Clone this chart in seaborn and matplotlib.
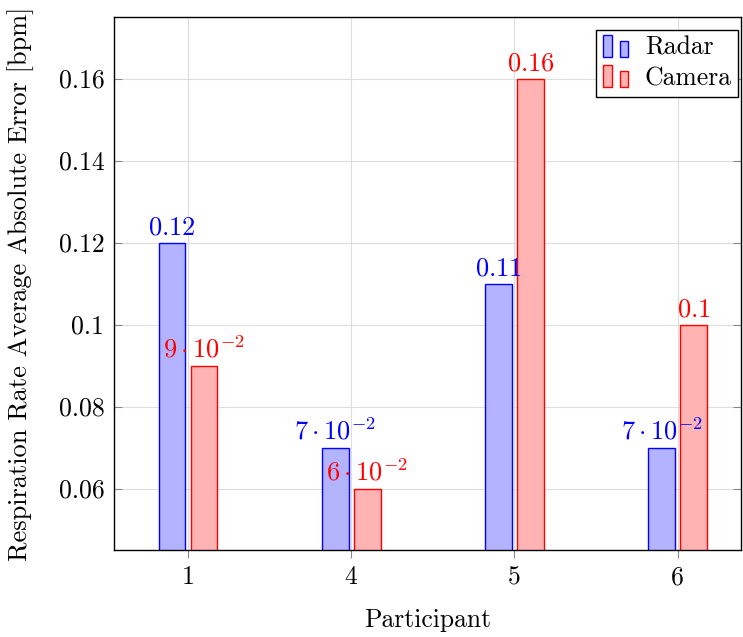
import matplotlib
matplotlib.use("Agg")
import matplotlib.pyplot as plt
import seaborn as sns
import pandas as pd
from matplotlib.patches import Rectangle
from matplotlib.legend_handler import HandlerBase

participants = ["1", "4", "5", "6"]
radar = [0.12, 0.07, 0.11, 0.07]
camera = [0.09, 0.06, 0.16, 0.10]
radar_labels = [r"$0.12$", r"$7\cdot10^{-2}$", r"$0.11$", r"$7\cdot10^{-2}$"]
camera_labels = [r"$9\cdot10^{-2}$", r"$6\cdot10^{-2}$", r"$0.16$", r"$0.1$"]
yticks = [0.06, 0.08, 0.10, 0.12, 0.14, 0.16]
ytick_labels = ["0.06", "0.08", "0.1", "0.12", "0.14", "0.16"]

sns.set_style("white")
plt.rcParams["font.family"] = ["cmr10", "DejaVu Serif"]
plt.rcParams["mathtext.fontset"] = "cm"
plt.rcParams["axes.unicode_minus"] = False
plt.rcParams["text.color"] = "black"
plt.rcParams["axes.labelcolor"] = "black"

df = pd.DataFrame({
    "Participant": participants * 2,
    "value": radar + camera,
    "series": ["Radar"] * 4 + ["Camera"] * 4,
})

fig = plt.figure(figsize=(7.43, 6.37), dpi=100)
ax = fig.add_axes([114 / 743, 1 - 550 / 637, (741 - 114) / 743, (550 - 17) / 637])

blue_fill = "#b3b3ff"
red_fill = "#ffb3b3"
sns.barplot(data=df, x="Participant", y="value", hue="series",
            palette={"Radar": blue_fill, "Camera": red_fill},
            width=0.392, gap=0.16, ax=ax, legend=False, saturation=1)

edge = {"Radar": "blue", "Camera": "red"}
for cont, name, labels in zip(ax.containers, ["Radar", "Camera"], [radar_labels, camera_labels]):
    for p in cont.patches:
        p.set_edgecolor(edge[name])
        p.set_linewidth(1.0)
    ax.bar_label(cont, labels=labels, color=edge[name], fontsize=19, padding=2)

FS = 18.5
ax.set_ylim(0.045, 0.175)
ax.set_xlim(-0.453, 3.388)
ax.set_yticks(yticks)
ax.set_yticklabels(ytick_labels)
ax.grid(True, color="#dddddd", linewidth=0.8)
ax.set_axisbelow(True)
ax.tick_params(axis="y", direction="in", length=6, color="#888888", labelsize=FS,
               labelcolor="black", left=True, right=True, pad=7)
ax.tick_params(axis="x", direction="out", length=6, color="#888888", labelsize=FS,
               labelcolor="black", bottom=True, pad=5)
for s in ax.spines.values():
    s.set_color("black")
    s.set_linewidth(1.0)

ax.set_xlabel("Participant", fontsize=FS, labelpad=14, color="black")
ax.set_ylabel("Respiration Rate Average Absolute Error [bpm]", fontsize=19, labelpad=18, color="black")


class TwoBars(HandlerBase):
    def __init__(self, fc, ec):
        super().__init__()
        self.fc, self.ec = fc, ec

    def create_artists(self, legend, orig_handle, xdescent, ydescent, width, height, fontsize, trans):
        w = width * 0.25
        h1 = height * 1.12
        h2 = height * 0.82
        y0 = -ydescent - height * 0.05
        r1 = Rectangle((-xdescent + width * 0.02, y0), w, h1, fc=self.fc, ec=self.ec, lw=1, transform=trans)
        r2 = Rectangle((-xdescent + width * 0.5, y0), w, h2, fc=self.fc, ec=self.ec, lw=1, transform=trans)
        return [r1, r2]


h_radar = Rectangle((0, 0), 1, 1)
h_camera = Rectangle((0, 0), 1, 1)
leg = ax.legend([h_radar, h_camera], ["Radar", "Camera"],
                handler_map={h_radar: TwoBars(blue_fill, "blue"), h_camera: TwoBars(red_fill, "red")},
                loc="upper right", bbox_to_anchor=(0.9955, 0.976), fontsize=FS,
                frameon=True, fancybox=False, edgecolor="black", framealpha=1,
                handlelength=1.35, handleheight=0.8, handletextpad=0.3,
                borderpad=0.25, labelspacing=0.25, borderaxespad=0.0)
leg.get_frame().set_linewidth(1.0)
for t in leg.get_texts():
    t.set_color("black")

fig.savefig("out.png", dpi=100)
